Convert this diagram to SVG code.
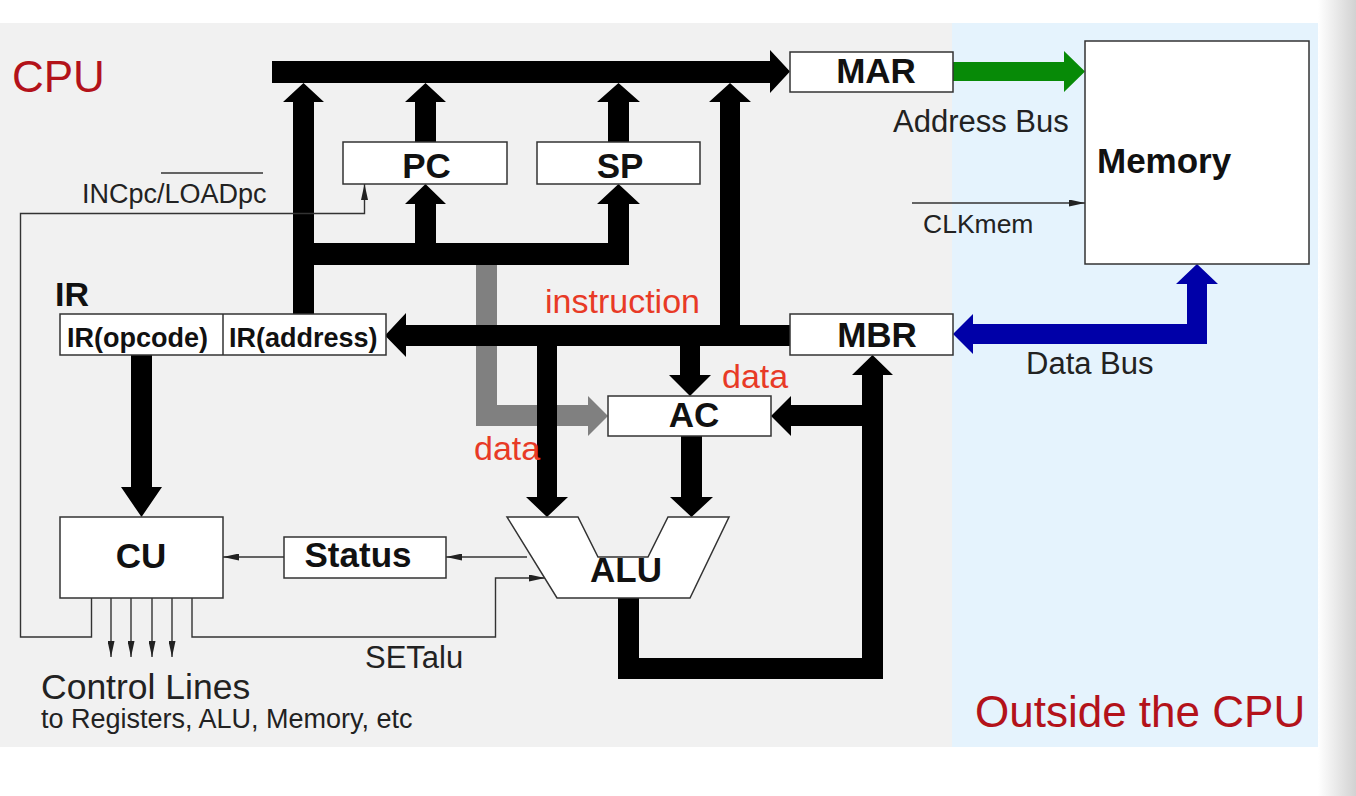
<svg xmlns="http://www.w3.org/2000/svg" width="1356" height="796" viewBox="0 0 1356 796">
<defs>
  <linearGradient id="edge" x1="0" y1="0" x2="1" y2="0">
    <stop offset="0" stop-color="#ffffff"/>
    <stop offset="1" stop-color="#d2d2d2"/>
  </linearGradient>
  <marker id="ah" viewBox="0 0 16 7" refX="16" refY="3.5" markerWidth="16" markerHeight="7" markerUnits="userSpaceOnUse" orient="auto">
    <path d="M0,0 L16,3.5 L0,7 Z" fill="#222"/>
  </marker>
  <style>
    text { font-family: "Liberation Sans", Arial, sans-serif; fill: #111; }
    .b { font-weight: bold; font-size: 35px; text-anchor: middle; }
    .lbl { font-size: 31px; fill: #222; }
    .red { fill: #b3121a; font-size: 44px; }
    .or { fill: #e83a26; font-size: 34px; }
    .box { fill: #ffffff; stroke: #333; stroke-width: 1.5; }
    .bus { fill: #000; }
    .thin { fill: none; stroke: #333; stroke-width: 1.4; }
  </style>
</defs>

<!-- background -->
<rect x="0" y="0" width="1356" height="796" fill="#ffffff"/>
<rect x="0" y="23" width="952" height="724" fill="#f1f1f1"/>
<rect x="952" y="23" width="366" height="724" fill="#e5f3fd"/>
<rect x="1318" y="0" width="38" height="796" fill="url(#edge)"/>

<text class="red" x="12" y="92">CPU</text>
<text class="red" x="975" y="727">Outside the CPU</text>

<!-- connectors -->
<g id="connectors">
  <path d="M476,265 V426 H588 V436 L608,416 L588,396 V405 H497 V265 Z" fill="#808080"/>
  <path class="bus" d="M272,61 H770 V50 L790,71.5 L770,93 V83 H272 Z"/>
  <path class="bus" d="M293,314 V102 H283 L303.5,83 L324,102 H314 V314 Z"/>
  <path class="bus" d="M415,142 V102 H405 L425.5,83 L446,102 H436 V142 Z"/>
  <path class="bus" d="M608,142 V102 H597 L618.5,83 L640,102 H629 V142 Z"/>
  <path class="bus" d="M720,346 V102 H709 L730,83 L751,102 H740 V346 Z"/>
  <path class="bus" d="M313,243 H629 V265 H313 Z"/>
  <path class="bus" d="M415,243 V204 H405 L425.5,184 L446,204 H436 V243 Z"/>
  <path class="bus" d="M608,265 V204 H597 L618.5,184 L640,204 H629 V265 Z"/>
  <path class="bus" d="M790,325 H406 V313 L385,335.5 L406,357 V346 H790 Z"/>
  <path class="bus" d="M537,346 V497 H526 L547,517 L568,497 H557 V346 Z"/>
  <path class="bus" d="M680,346 V375 H669 L690,396 L711,375 H700 V346 Z"/>
  <path class="bus" d="M681,436 V497 H670 L691.5,517 L713,497 H702 V436 Z"/>
  <path class="bus" d="M618,598 V679 H883 V375 H893 L872.5,355 L852,375 H862 V658 H639 V598 Z"/>
  <path class="bus" d="M862,405 H791 V396 L771,416 L791,436 V426 H862 Z"/>
  <path class="bus" d="M131,355 V487 H121 L141.5,517 L162,487 H152 V355 Z"/>
  <path d="M953,62 H1064 V51 L1085,71.5 L1064,92 V81 H953 Z" fill="#078a07"/>
  <path d="M1187,284 H1176 L1197,264 L1218,284 H1207 V344 H973 V354 L953,334 L973,314 V324 H1187 Z" fill="#0000a8"/>

  <line class="thin" x1="284" y1="557" x2="223" y2="557" marker-end="url(#ah)"/>
  <line class="thin" x1="527" y1="557" x2="446" y2="557" marker-end="url(#ah)"/>
  <path class="thin" d="M192,598 V637 H495.5 V578 H545" marker-end="url(#ah)"/>
  <path class="thin" d="M91.5,598 V637 H20.5 V213.5 H364.5 V184" marker-end="url(#ah)"/>
  <line class="thin" x1="912" y1="203" x2="1085" y2="203" marker-end="url(#ah)"/>
  <line class="thin" x1="111" y1="598" x2="111" y2="657" marker-end="url(#ah)"/>
  <line class="thin" x1="131" y1="598" x2="131" y2="657" marker-end="url(#ah)"/>
  <line class="thin" x1="152" y1="598" x2="152" y2="657" marker-end="url(#ah)"/>
  <line class="thin" x1="172" y1="598" x2="172" y2="657" marker-end="url(#ah)"/>
  <line class="thin" x1="161" y1="173" x2="263" y2="173"/>
</g>

<!-- connector labels -->
<text x="82" y="203" style="font-size:27px;fill:#222">INCpc/LOADpc</text>
<text class="lbl" x="893" y="131.5">Address Bus</text>
<text x="923" y="232.5" style="font-size:26.5px;fill:#222">CLKmem</text>
<text class="lbl" x="1026" y="374">Data Bus</text>
<text class="lbl" x="365" y="668">SETalu</text>
<text class="or" x="545" y="312.5">instruction</text>
<text class="or" x="722" y="388">data</text>
<text class="or" x="474" y="460">data</text>
<text x="41" y="699" style="font-size:35.5px;fill:#222">Control Lines</text>
<text x="41" y="727.5" style="font-size:27px;fill:#222">to Registers, ALU, Memory, etc</text>

<g id="MAR">
  <rect class="box" x="790" y="52" width="163" height="40"/>
  <text class="b" x="876" y="83">MAR</text>
</g>
<g id="Memory">
  <rect class="box" x="1085" y="41" width="224" height="223"/>
  <text x="1097" y="173" style="font-weight:bold;font-size:35px">Memory</text>
</g>
<g id="PC">
  <rect class="box" x="343" y="142" width="164" height="42"/>
  <text class="b" x="426.5" y="178">PC</text>
</g>
<g id="SP">
  <rect class="box" x="537" y="142" width="163" height="42"/>
  <text class="b" x="620" y="178">SP</text>
</g>
<g id="IR">
  <text x="55" y="306" style="font-weight:bold;font-size:34px">IR</text>
  <rect class="box" x="60" y="314" width="326" height="41"/>
  <line x1="223" y1="314" x2="223" y2="355" stroke="#333" stroke-width="1.5"/>
  <text x="67" y="347" style="font-weight:bold;font-size:27px">IR(opcode)</text>
  <text x="229" y="347" style="font-weight:bold;font-size:27px">IR(address)</text>
</g>
<g id="MBR">
  <rect class="box" x="790" y="314" width="163" height="41"/>
  <text class="b" x="877" y="346.5">MBR</text>
</g>
<g id="AC">
  <rect class="box" x="608" y="396" width="163" height="40"/>
  <text class="b" x="694" y="427">AC</text>
</g>
<g id="ALU">
  <polygon class="box" points="507,517 578,517 598,557 648,557 668,517 729,517 690,598 557,598"/>
  <text class="b" x="626" y="582">ALU</text>
</g>
<g id="CU">
  <rect class="box" x="60" y="517" width="163" height="81"/>
  <text class="b" x="141" y="568">CU</text>
</g>
<g id="Status">
  <rect class="box" x="284" y="537" width="162" height="41"/>
  <text class="b" x="358" y="567">Status</text>
</g>
</svg>
